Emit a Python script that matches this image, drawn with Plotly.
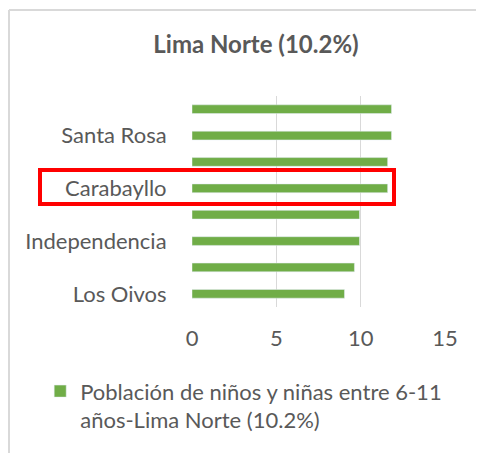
import plotly.graph_objects as go

# districts of Lima Norte, bottom to top (only every other one gets a label, as in Excel)
distritos = ["Los Olivos", "San Martín de Porres", "Independencia", "Comas",
             "Carabayllo", "Puente Piedra", "Santa Rosa", "Ancón"]
valores = [9.04, 9.63, 9.93, 9.93, 11.6, 11.6, 11.83, 11.83]
etiquetas_vals = ["Los Olivos", "Independencia", "Carabayllo", "Santa Rosa"]
etiquetas_txt = ["Los Oivos", "Independencia", "Carabayllo", "Santa Rosa"]
x_ticks = [0, 5, 10, 15]

serie = "Población de niños y niñas entre 6-11<br>años-Lima Norte (10.2%)"
gris = "#595959"
fuente = "Lato"

fig = go.Figure()
fig.add_trace(go.Bar(
    y=distritos, x=valores, orientation="h", width=0.33,
    marker_color="#70ad47", name=serie, showlegend=True,
))

# the page body adds 8px, so the figure is 8px smaller and shifted up/left
fig.update_layout(
    width=476, height=445,
    margin=dict(l=184, r=39, t=88, b=146, autoexpand=False),
    paper_bgcolor="white", plot_bgcolor="white",
    font=dict(family=fuente, size=22, color=gris),
    title=dict(text="<b>Lima Norte (10.2%)</b>", x=248 / 476, xanchor="center",
               y=1 - 37 / 445, yanchor="middle",
               font=dict(family=fuente, size=24, color=gris)),
    showlegend=True,
    legend=dict(orientation="h", x=-0.60, xanchor="left", y=-0.3, yanchor="top",
                valign="top", font=dict(family=fuente, size=22, color=gris),
                bgcolor="rgba(0,0,0,0)"),
    bargap=0.67,
)

fig.update_xaxes(range=[0, 15], tickvals=x_ticks, showgrid=True, gridcolor="#d9d9d9",
                 gridwidth=1, zeroline=False, showline=False,
                 ticks="outside", ticklen=12, tickcolor="rgba(0,0,0,0)", fixedrange=True)
fig.update_yaxes(categoryorder="array", categoryarray=distritos,
                 tickvals=etiquetas_vals, ticktext=etiquetas_txt,
                 showgrid=False, zeroline=False, showline=False,
                 ticks="outside", ticklen=20, tickcolor="rgba(0,0,0,0)", fixedrange=True)

# chart frame: only its left and top edges are inside the crop
x_borde = (1 - 184) / 253
y_borde = (299 - 2) / 211
fig.add_shape(type="line", xref="paper", yref="paper",
              x0=x_borde, x1=x_borde, y0=-3.0, y1=y_borde,
              line=dict(color="#d9d9d9", width=2), layer="below")
fig.add_shape(type="line", xref="paper", yref="paper",
              x0=x_borde, x1=3.0, y0=y_borde, y1=y_borde,
              line=dict(color="#d9d9d9", width=2), layer="below")
# red highlight box around Carabayllo
fig.add_shape(type="rect", xref="paper", yref="paper",
              x0=(40 - 192) / 253, x1=(394 - 192) / 253,
              y0=(307 - 204) / 211, y1=(307 - 170) / 211,
              line=dict(color="#ff0000", width=4), fillcolor="rgba(0,0,0,0)")

fig.write_html("out.html")
